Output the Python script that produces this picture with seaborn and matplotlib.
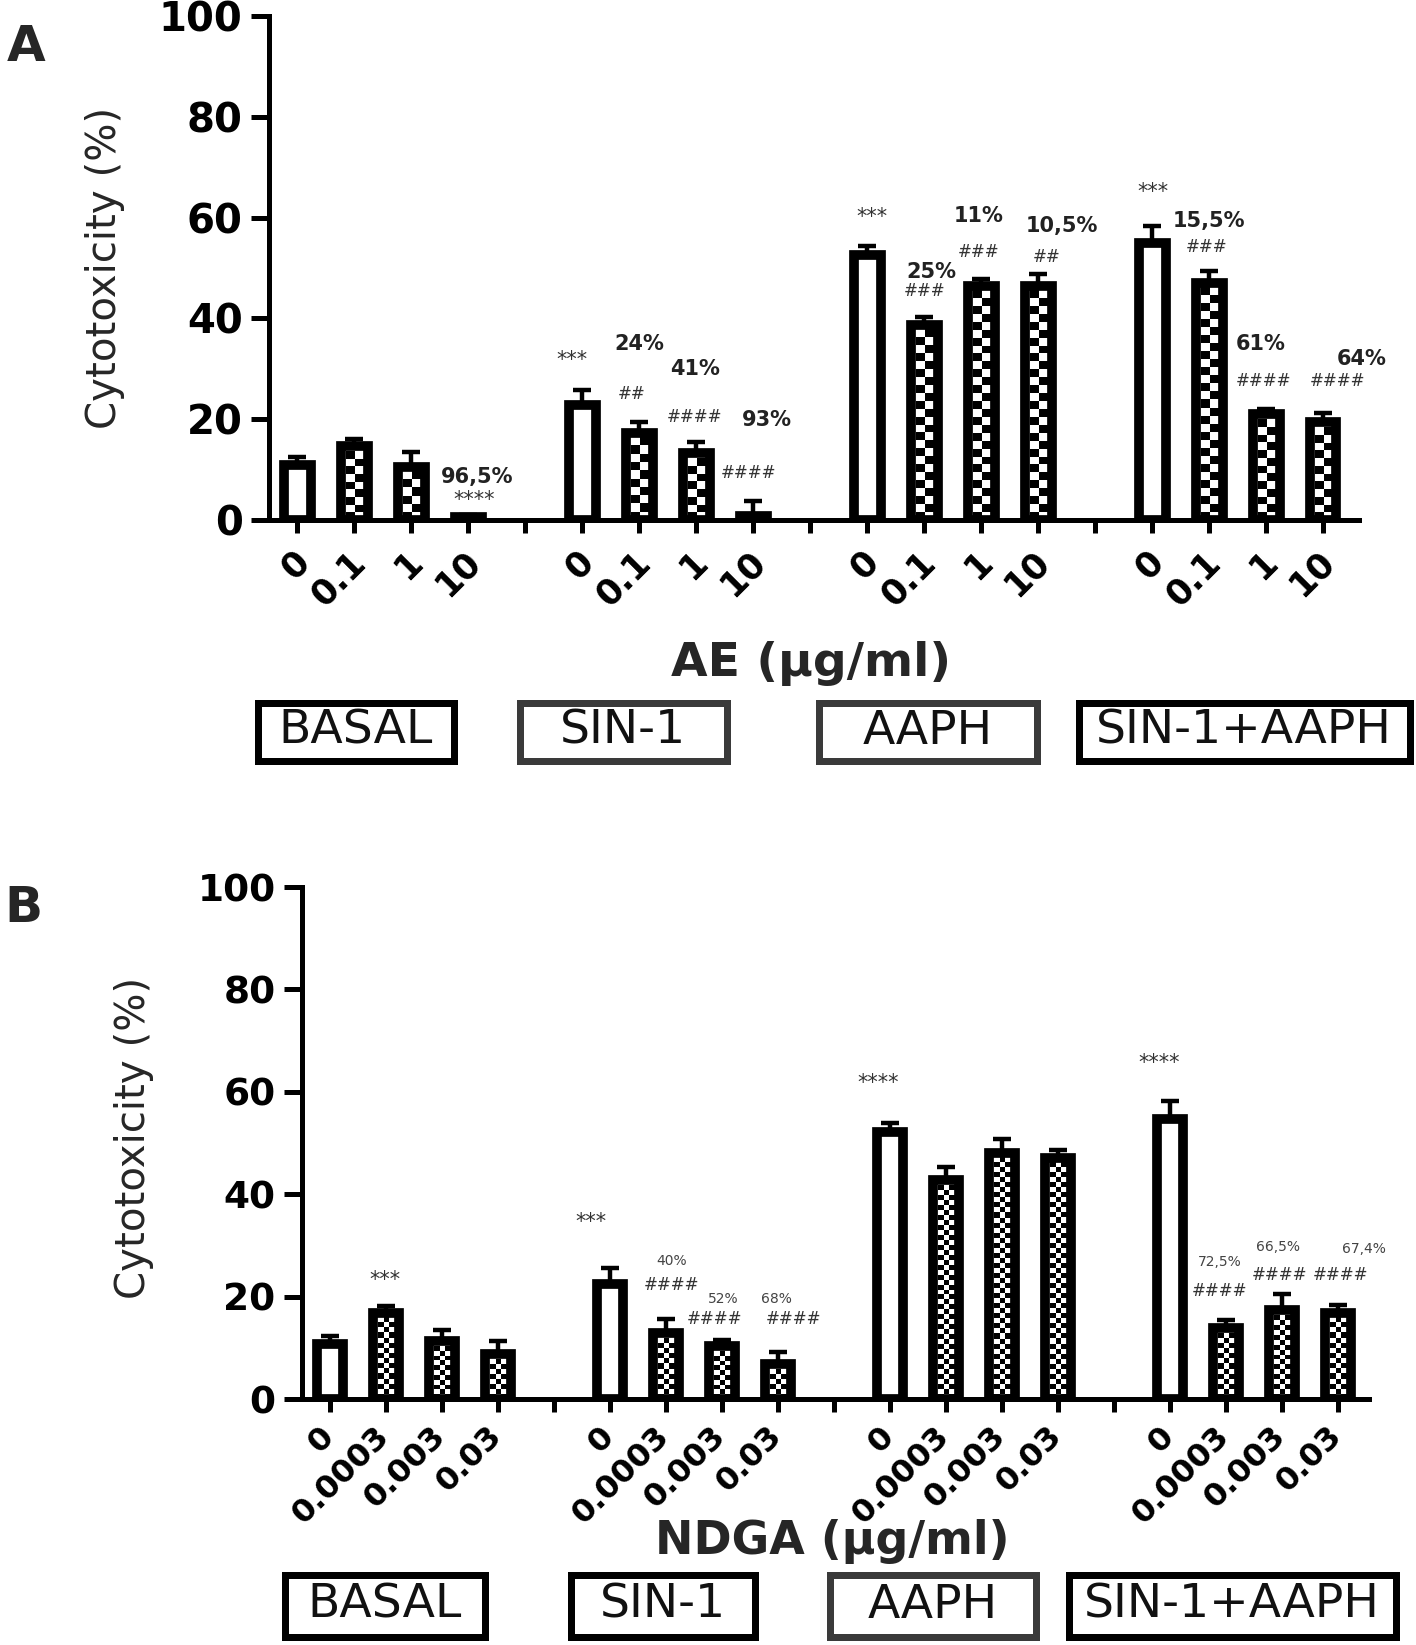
import numpy as np
import pandas as pd
import matplotlib
matplotlib.use("Agg")
import matplotlib.pyplot as plt
import matplotlib.transforms as mtransforms
from matplotlib.patches import Rectangle
import seaborn as sns

sns.set_theme(style="ticks")
plt.rcParams["font.family"] = ["DejaVu Sans"]

groups = ["BASAL", "SIN-1", "AAPH", "SIN-1+AAPH"]

# ---- panel A : AE (ug/ml) ----
ae_doses = ["0", "0.1", "1", "10"]
ae_basal = [11.0, 14.6, 10.5, 0.6]
ae_sin1 = [22.8, 17.3, 13.2, 0.8]
ae_aaph = [52.5, 38.7, 46.5, 46.5]
ae_sin1_aaph = [55.0, 47.0, 21.0, 19.4]
ae_basal_sem = [1.5, 1.4, 3.0, 0.4]
ae_sin1_sem = [3.0, 2.2, 2.2, 3.0]
ae_aaph_sem = [1.8, 1.5, 1.3, 2.3]
ae_sin1_aaph_sem = [3.4, 2.4, 1.0, 1.8]

# text labels: (x in bar slots, y in %, text)
ae_pct = [(3.16, 8.5, "96,5%"), (6.0, 34.9, "24%"), (6.98, 30.0, "41%"),
          (8.23, 19.8, "93%"), (11.12, 49.2, "25%"), (11.95, 60.3, "11%"),
          (13.42, 58.3, "10,5%"), (16.0, 59.3, "15,5%"), (16.91, 34.9, "61%"),
          (18.67, 31.9, "64%")]
ae_sig = [(3.1, 4.0, "****"), (4.81, 31.7, "***"), (5.86, 25.0, "##"),
          (6.96, 20.4, "####"), (7.91, 9.3, "####"), (10.09, 60.1, "***"),
          (11.0, 45.4, "###"), (11.96, 53.2, "###"), (13.14, 52.2, "##"),
          (15.02, 65.1, "***"), (15.95, 54.2, "###"), (16.95, 27.6, "####"),
          (18.26, 27.6, "####")]

# ---- panel B : NDGA (ug/ml) ----
ndga_doses = ["0", "0.0003", "0.003", "0.03"]
ndga_basal = [10.8, 16.8, 11.3, 8.7]
ndga_sin1 = [22.4, 12.8, 10.3, 6.8]
ndga_aaph = [52.1, 42.7, 48.1, 47.1]
ndga_sin1_aaph = [54.6, 13.8, 17.3, 16.8]
ndga_basal_sem = [1.5, 1.3, 2.1, 2.6]
ndga_sin1_sem = [3.1, 2.8, 1.3, 2.3]
ndga_aaph_sem = [1.9, 2.7, 2.6, 1.6]
ndga_sin1_aaph_sem = [3.7, 1.6, 3.3, 1.6]

ndga_pct = [(6.1, 26.9, "40%"), (7.02, 19.5, "52%"), (7.97, 19.5, "68%"),
            (15.88, 26.8, "72,5%"), (16.93, 29.7, "66,5%"), (18.46, 29.3, "67,4%")]
ndga_sig = [(0.98, 23.2, "***"), (4.66, 34.6, "***"), (6.1, 22.3, "####"),
            (6.87, 15.6, "####"), (8.27, 15.6, "####"), (9.79, 61.7, "****"),
            (14.8, 65.6, "****"), (15.88, 21.1, "####"), (16.96, 24.2, "####"),
            (18.05, 24.2, "####")]


def make_frame(doses, means, sems):
    rows, order = [], []
    for g, (m, s) in enumerate(zip(means, sems)):
        for d in range(len(doses)):
            key = f"{g}-{d}"
            rows.append({"key": key, "group": groups[g], "dose": doses[d],
                         "first": d == 0, "value": m[d], "sem": s[d]})
            order.append(key)
        if g < len(means) - 1:
            order.append(f"gap{g}")
    df = pd.DataFrame(rows)
    df["pos"] = [order.index(k) for k in df["key"]]
    return df, order


W, H = 1416, 1645
fig = plt.figure(figsize=(W / 100, H / 100), dpi=100)


def draw_panel(rect, df, order, xright, cell_px, ncols, tick_fs, ytick_fs, lab_off):
    ax = fig.add_axes([rect[0] / W, 1 - rect[3] / H,
                       (rect[2] - rect[0]) / W, (rect[3] - rect[1]) / H])
    sns.barplot(data=df, x="key", y="value", order=order, color="white",
                saturation=1, width=0.47, edgecolor="black", linewidth=7,
                errorbar=None, ax=ax, zorder=2)
    ax.set_autoscale_on(False)
    ax.set_xlim(-0.5, xright)
    ax.set_ylim(0, 100)

    ax.errorbar(df["pos"], df["value"], yerr=[np.zeros(len(df)), df["sem"]],
                fmt="none", ecolor="black", elinewidth=3.2, capsize=6.5,
                capthick=3.2, zorder=1.5)

    # checkered fill for the treated bars
    t0 = ax.transData.transform((0, 0))
    px_x = ax.transData.transform((1, 0))[0] - t0[0]
    px_y = ax.transData.transform((0, 1))[1] - t0[1]
    first_by_pos = dict(zip(df["pos"], df["first"]))
    edge_px = 7 * 100 / 72
    for p in ax.patches:
        p.set_zorder(2)
        cx = int(round(p.get_x() + p.get_width() / 2))
        if first_by_pos.get(cx, True):
            continue
        h = p.get_height()
        top = h - edge_px / 2 / px_y
        if top * px_y < 3:
            p.set_facecolor("black")
            continue
        inset = edge_px / 2 / px_x
        left, right = p.get_x() + inset, p.get_x() + p.get_width() - inset
        nrows = max(1, int(round(top * px_y / cell_px)))
        arr = np.add.outer(np.arange(nrows), np.arange(ncols)) % 2
        ax.imshow(arr, extent=(left, right, 0, top), origin="lower",
                  cmap="gray", vmin=0, vmax=1, interpolation="nearest",
                  aspect="auto", zorder=1.8)
        p.set_facecolor("none")

    ax.set_xlim(-0.5, xright)
    ax.set_ylim(0, 100)
    sns.despine(ax=ax)
    for s in ("left", "bottom"):
        ax.spines[s].set_linewidth(3.6)
        ax.spines[s].set_color("black")
    ax.set_yticks(range(0, 101, 20))
    ax.tick_params(axis="y", length=13, width=3.6, labelsize=ytick_fs, pad=6,
                   colors="black")
    ax.tick_params(axis="x", length=9, width=3.6, pad=6, colors="black")
    for lab in ax.get_yticklabels():
        lab.set_fontweight("bold")
    doses_by_pos = dict(zip(df["pos"], df["dose"]))
    ax.set_xticks(range(len(order)))
    ax.set_xticklabels([doses_by_pos.get(i, "") for i in range(len(order))],
                       rotation=45, ha="right", rotation_mode="anchor",
                       fontsize=tick_fs, fontweight="bold")
    off = mtransforms.ScaledTranslation(lab_off[0] / 100, lab_off[1] / 100,
                                        fig.dpi_scale_trans)
    for lab in ax.get_xticklabels():
        lab.set_transform(lab.get_transform() + off)
    ax.set_xlabel("")
    ax.set_ylabel("")
    return ax


def add_notes(ax, pct, sig, pct_fs, pct_bold, sig_fs, pct_color):
    for x, y, t in pct:
        ax.text(x, y, t, ha="center", va="center", fontsize=pct_fs,
                fontweight="bold" if pct_bold else "normal", color=pct_color)
    for x, y, t in sig:
        fs = sig_fs + 3 if "*" in t else sig_fs
        ax.text(x, y, t, ha="center", va="center", fontsize=fs, color="#333333")


def add_boxes(boxes, y0, y1):
    for (x0, x1, label, col) in boxes:
        lw = 7
        fig.add_artist(Rectangle(((x0 + lw / 2) / W, 1 - (y1 - lw / 2) / H),
                                 (x1 - x0 - lw) / W, (y1 - y0 - lw) / H,
                                 transform=fig.transFigure, fill=False,
                                 edgecolor=col, linewidth=lw * 0.72))
        fig.text((x0 + x1) / 2 / W, 1 - (y0 + y1) / 2 / H, label,
                 ha="center", va="center", fontsize=34, color="#111111")


# panel A
df_a, order_a = make_frame(ae_doses, [ae_basal, ae_sin1, ae_aaph, ae_sin1_aaph],
                           [ae_basal_sem, ae_sin1_sem, ae_aaph_sem, ae_sin1_aaph_sem])
ax_a = draw_panel((269, 16, 1359, 520), df_a, order_a, 18.63, 8, 2, 25, 29, (-6, -4))
add_notes(ax_a, ae_pct, ae_sig, 15, True, 12, "#222222")

# panel B
df_b, order_b = make_frame(ndga_doses, [ndga_basal, ndga_sin1, ndga_aaph, ndga_sin1_aaph],
                           [ndga_basal_sem, ndga_sin1_sem, ndga_aaph_sem, ndga_sin1_aaph_sem])
ax_b = draw_panel((302, 887, 1369, 1399), df_b, order_b, 18.55, 5, 3, 23, 27, (-12, -1))
add_notes(ax_b, ndga_pct, ndga_sig, 10, False, 12, "#444444")

# axis titles and panel letters
fig.text(105 / W, 1 - 268 / H, "Cytotoxicity (%)", rotation=90, ha="center",
         va="center", fontsize=29)
fig.text(134 / W, 1 - 1138 / H, "Cytotoxicity (%)", rotation=90, ha="center",
         va="center", fontsize=29)
fig.text(811 / W, 1 - 664 / H, "AE (µg/ml)", ha="center", va="center",
         fontsize=34, fontweight="bold")
fig.text(832 / W, 1 - 1542 / H, "NDGA (µg/ml)", ha="center", va="center",
         fontsize=33, fontweight="bold")
fig.text(26 / W, 1 - 47 / H, "A", ha="center", va="center", fontsize=36,
         fontweight="bold")
fig.text(23 / W, 1 - 908 / H, "B", ha="center", va="center", fontsize=36,
         fontweight="bold")

add_boxes([(254, 457, "BASAL", "black"), (516, 730, "SIN-1", "#3a3a3a"),
           (815, 1040, "AAPH", "#3a3a3a"), (1075, 1413, "SIN-1+AAPH", "black")],
          699, 764)
add_boxes([(281, 488, "BASAL", "black"), (567, 758, "SIN-1", "black"),
           (826, 1039, "AAPH", "#3a3a3a"), (1065, 1399, "SIN-1+AAPH", "black")],
          1571, 1640)

fig.savefig("out.png", dpi=100)
